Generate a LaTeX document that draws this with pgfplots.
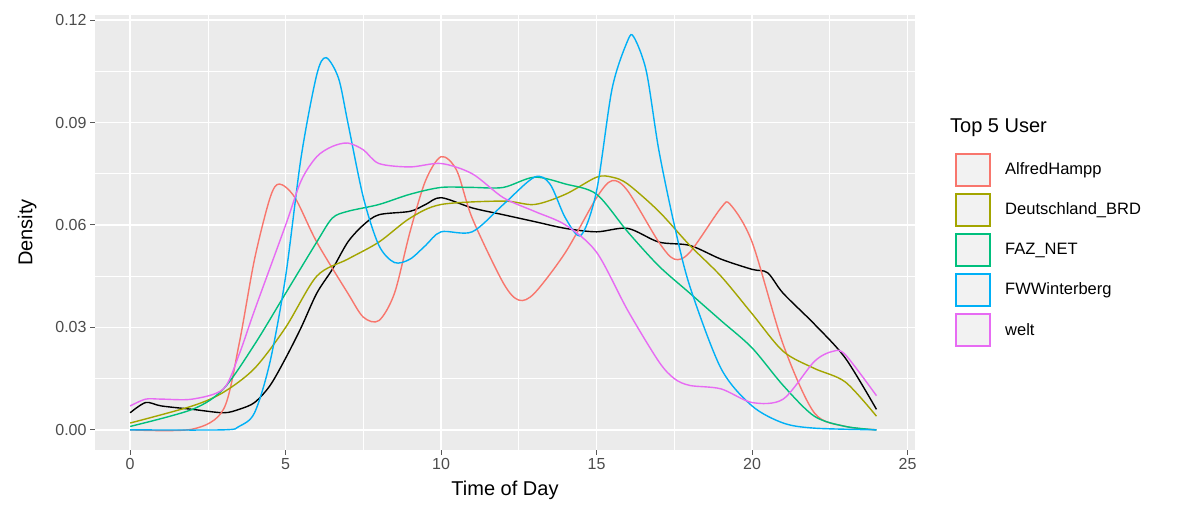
\documentclass[border=0pt]{standalone}
\usepackage{pgfplots}
\pgfplotsset{compat=1.18}
\usepackage{fontspec}
\setmainfont{Liberation Sans}
\definecolor{cA}{HTML}{F8766D}
\definecolor{cB}{HTML}{A3A500}
\definecolor{cC}{HTML}{00BF7D}
\definecolor{cD}{HTML}{00B0F6}
\definecolor{cE}{HTML}{E76BF3}
\definecolor{pbg}{HTML}{EBEBEB}
\newcommand{\lkey}[3]{%
  \draw[#1, fill=gray!10, line width=1.4pt] ([shift={(-17pt,-16pt)}]rel axis cs:1.0707,#2) rectangle ([shift={(17pt,16pt)}]rel axis cs:1.0707,#2);
  \node[anchor=west, font=\fontsize{16.5}{19}\selectfont, inner sep=0pt] at (rel axis cs:1.1098,#2) {#3};}
\begin{document}
\begin{tikzpicture}
\begin{axis}[
  scale only axis, width=820pt, height=435pt,
  xmin=-1.13, xmax=25.24, ymin=-0.0059, ymax=0.1215,
  axis background/.style={fill=pbg},
  axis line style={draw=none},
  xtick={0,5,10,15,20,25}, ytick={0,0.03,0.06,0.09,0.12},
  minor xtick={2.5,7.5,12.5,17.5,22.5}, minor ytick={0.015,0.045,0.075,0.105},
  grid=both,
  major grid style={white, line width=1.6pt},
  minor grid style={white, line width=0.8pt},
  tick style={draw=gray!70!black, line width=1pt},
  major tick length=5pt, minor tick length=0pt,
  tick align=outside, xtick pos=bottom, ytick pos=left,
  yticklabel style={/pgf/number format/.cd, fixed, fixed zerofill, precision=2},
  /pgf/number format/assume math mode=true,
  ticklabel style={font=\fontsize{16}{19}\selectfont, text=black!70},
  xlabel={Time of Day}, ylabel={Density},
  label style={font=\fontsize{20}{24}\selectfont},
  xlabel style={yshift=-4pt}, ylabel style={yshift=12pt},
  clip=false, smooth, tension=0.5,
  every axis plot/.append style={line width=1.4pt},
]
\path (rel axis cs:-0.1159,-0.1356) rectangle (rel axis cs:1.3244,1.0345);
\addplot[black] coordinates {(0,0.005)(0.5,0.008)(1,0.007)(2,0.006)(3,0.005)(3.5,0.006)(4,0.008)(4.5,0.013)(5,0.021)(5.5,0.030)(6,0.040)(6.5,0.047)(7,0.055)(7.5,0.060)(8,0.063)(9,0.064)(9.5,0.066)(10,0.068)(11,0.065)(12,0.063)(13,0.061)(14,0.059)(15,0.058)(16,0.059)(17,0.055)(18,0.054)(19,0.050)(20,0.047)(20.5,0.046)(21,0.040)(22,0.031)(23,0.021)(24,0.006)};
\addplot[cA] coordinates {(0,0)(2,0.0002)(3,0.006)(3.5,0.025)(4,0.050)(4.5,0.068)(4.8,0.072)(5.3,0.068)(6,0.055)(7,0.040)(7.5,0.033)(8,0.032)(8.5,0.040)(9,0.058)(9.5,0.073)(10,0.080)(10.5,0.076)(11,0.062)(12,0.043)(12.5,0.038)(13,0.040)(14,0.052)(15,0.068)(15.5,0.073)(16,0.070)(17,0.055)(17.5,0.050)(18,0.052)(19,0.065)(19.3,0.066)(20,0.055)(21,0.025)(22,0.005)(23,0.001)(24,0)};
\addplot[cB] coordinates {(0,0.002)(2,0.007)(3,0.011)(4,0.018)(5,0.030)(6,0.045)(7,0.050)(8,0.055)(9,0.062)(10,0.066)(12,0.067)(13,0.066)(14,0.069)(15,0.074)(15.5,0.074)(16,0.072)(17,0.064)(18,0.054)(19,0.045)(20,0.034)(21,0.023)(22,0.018)(23,0.014)(24,0.004)};
\addplot[cC] coordinates {(0,0.001)(2,0.006)(3,0.012)(4,0.025)(5,0.040)(6,0.055)(6.5,0.062)(7,0.064)(8,0.066)(9,0.069)(10,0.071)(11,0.071)(12,0.071)(13,0.074)(14,0.072)(15,0.069)(16,0.058)(17,0.048)(18,0.040)(19,0.032)(20,0.024)(21,0.013)(22,0.004)(23,0.001)(24,0)};
\addplot[cD] coordinates {(0,0)(3,0)(3.5,0.001)(4,0.005)(4.5,0.020)(5,0.045)(5.5,0.080)(6,0.104)(6.3,0.109)(6.7,0.103)(7,0.090)(7.5,0.068)(8,0.054)(8.5,0.049)(9,0.050)(9.5,0.054)(10,0.058)(11,0.058)(12,0.066)(13,0.074)(13.5,0.072)(14,0.062)(14.5,0.057)(15,0.070)(15.5,0.100)(16,0.114)(16.2,0.115)(16.6,0.105)(17,0.082)(17.5,0.060)(18,0.042)(19,0.018)(20,0.007)(21,0.002)(22,0.0005)(24,0)};
\addplot[cE] coordinates {(0,0.007)(0.5,0.009)(1,0.009)(2,0.009)(3,0.012)(3.5,0.022)(4,0.035)(5,0.060)(5.5,0.073)(6,0.080)(6.5,0.083)(7,0.084)(7.5,0.082)(8,0.078)(9,0.077)(10,0.078)(11,0.075)(12,0.068)(13,0.064)(14,0.060)(15,0.052)(16,0.035)(17,0.020)(17.5,0.015)(18,0.013)(19,0.012)(20,0.008)(21,0.009)(22,0.020)(22.6,0.023)(23,0.022)(24,0.010)};
\node[anchor=west, font=\fontsize{20}{24}\selectfont, inner sep=0pt] at (rel axis cs:1.0427,0.740) {Top 5 User};
\lkey{cA}{0.6437}{AlfredHampp}
\lkey{cB}{0.5517}{Deutschland\_BRD}
\lkey{cC}{0.4598}{FAZ\_NET}
\lkey{cD}{0.3678}{FWWinterberg}
\lkey{cE}{0.2759}{welt}
\end{axis}
\end{tikzpicture}
\end{document}
